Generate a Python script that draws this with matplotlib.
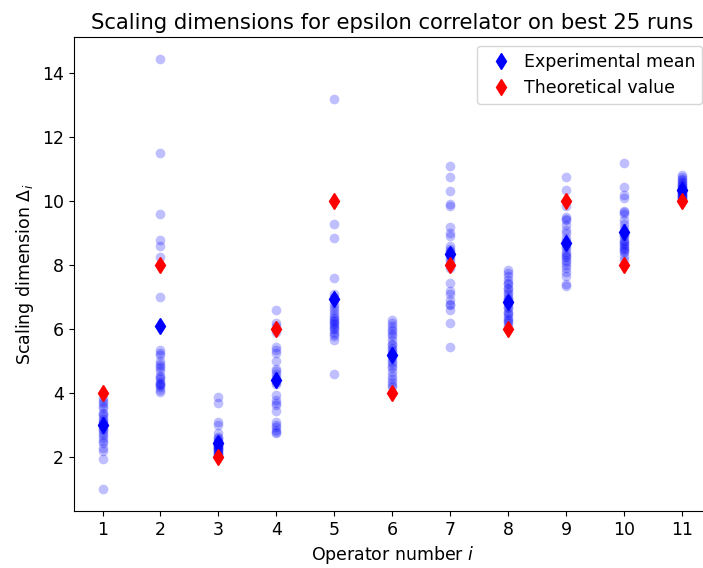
import numpy as np
import matplotlib
matplotlib.use('Agg')
import matplotlib.pyplot as plt

# Operator numbers
operators = np.arange(1, 12)

# Scaling dimensions from the best 25 runs, one list per operator
runs = [
    [3.85, 3.75, 3.7, 3.6, 3.55, 3.4, 3.35, 3.3, 3.2, 3.15, 3.1, 3.05, 3.0,
     2.95, 2.9, 2.85, 2.75, 2.7, 2.6, 2.5, 2.45, 2.3, 2.2, 1.95, 1.0],
    [14.45, 11.5, 9.6, 8.8, 8.6, 8.25, 7.0, 5.35, 5.25, 5.2, 5.0, 4.9, 4.85,
     4.8, 4.7, 4.55, 4.5, 4.45, 4.35, 4.3, 4.3, 4.25, 4.2, 4.1, 4.05],
    [3.9, 3.7, 3.1, 3.0, 2.75, 2.65, 2.6, 2.55, 2.5, 2.45, 2.45, 2.4, 2.4,
     2.35, 2.35, 2.3, 2.3, 2.25, 2.25, 2.2, 2.2, 2.15, 2.1, 2.1, 2.05],
    [6.6, 6.2, 6.1, 5.9, 5.45, 5.35, 5.25, 5.0, 4.75, 4.7, 4.6, 4.5, 4.35,
     4.3, 3.95, 3.8, 3.7, 3.65, 3.45, 3.1, 3.0, 2.95, 2.85, 2.8, 2.75],
    [13.2, 9.3, 8.85, 7.6, 7.1, 7.0, 6.95, 6.8, 6.7, 6.6, 6.5, 6.4, 6.35,
     6.3, 6.25, 6.2, 6.15, 6.1, 6.05, 6.0, 5.9, 5.85, 5.8, 5.65, 4.6],
    [6.3, 6.2, 6.1, 6.0, 5.95, 5.85, 5.8, 5.65, 5.55, 5.5, 5.4, 5.35, 5.3,
     5.2, 5.1, 5.0, 4.95, 4.85, 4.8, 4.65, 4.55, 4.45, 4.35, 4.25, 4.2],
    [11.1, 10.75, 10.3, 9.9, 9.85, 9.2, 9.0, 8.9, 8.6, 8.5, 8.45, 8.4, 8.3,
     8.2, 8.1, 7.9, 7.45, 7.2, 7.1, 6.9, 6.8, 6.75, 6.6, 6.2, 5.45],
    [7.85, 7.75, 7.65, 7.55, 7.45, 7.4, 7.3, 7.25, 7.15, 7.1, 7.0, 6.95, 6.9,
     6.85, 6.8, 6.7, 6.65, 6.55, 6.5, 6.45, 6.35, 6.3, 6.25, 6.2, 6.1],
    [10.75, 10.35, 9.85, 9.5, 9.45, 9.4, 9.25, 9.1, 9.0, 8.85, 8.75, 8.6, 8.55,
     8.4, 8.35, 8.3, 8.25, 8.15, 8.1, 8.0, 7.9, 7.8, 7.65, 7.4, 7.35],
    [11.2, 10.45, 10.2, 10.1, 9.7, 9.65, 9.6, 9.4, 9.3, 9.15, 9.05, 9.0, 8.95,
     8.9, 8.8, 8.75, 8.7, 8.65, 8.6, 8.55, 8.5, 8.45, 8.4, 8.3, 8.15],
    [10.8, 10.75, 10.7, 10.65, 10.6, 10.55, 10.5, 10.5, 10.45, 10.4, 10.4, 10.35,
     10.35, 10.3, 10.3, 10.3, 10.25, 10.25, 10.2, 10.2, 10.15, 10.15, 10.1, 10.1, 10.05],
]

# Experimental means and theoretical values
exp_mean = [3.0, 6.1, 2.45, 4.4, 6.95, 5.2, 8.35, 6.85, 8.7, 9.05, 10.35]
theory = [4, 8, 2, 6, 10, 4, 8, 6, 10, 8, 10]

fig = plt.figure(figsize=(7.03, 5.68), dpi=100)
ax = fig.add_axes([0.1046, 0.1004, 0.907, 0.8345])

for op, vals in zip(operators, runs):
    ax.plot([op] * len(vals), vals, 'o', color='blue', alpha=0.25, markersize=7,
            markeredgewidth=0)

ax.plot(operators, exp_mean, 'd', color='blue', markersize=8.5, label='Experimental mean')
ax.plot(operators, theory, 'd', color='red', markersize=8.5, label='Theoretical value')

ax.set_xlim(0.5, 11.5)
ax.set_xticks(operators)
ax.tick_params(labelsize=12.5)
ax.set_xlabel('Operator number $i$', fontsize=12.5)
ax.set_ylabel('Scaling dimension $\\Delta_i$', fontsize=12.5)
ax.set_title('Scaling dimensions for epsilon correlator on best 25 runs', fontsize=15.2)
ax.legend(loc='upper right', fontsize=12.5, handletextpad=0.3)

fig.savefig('out.png', dpi=100)
